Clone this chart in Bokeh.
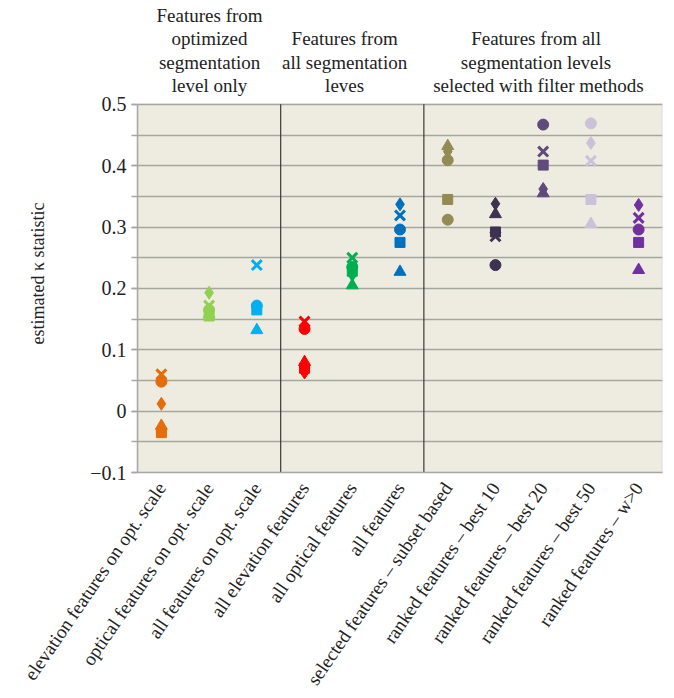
import math
from bokeh.plotting import figure
from bokeh.models import (ColumnDataSource, FactorRange, FixedTicker, BoxAnnotation, Range1d)
from bokeh.core.properties import value
from bokeh.embed import file_html
from bokeh.resources import INLINE

categories = [
    "elevation features on opt. scale",
    "optical features on opt. scale",
    "all features on opt. scale",
    "all elevation features",
    "all optical features",
    "all features",
    "selected features \u2013 subset based",
    "ranked features \u2013 best 10",
    "ranked features \u2013 best 20",
    "ranked features \u2013 best 50",
    "ranked features \u2013 w>0",
]
colors = ["#E46C0A", "#92D050", "#00B0F0", "#FF0000", "#00B050", "#0070C0",
          "#948A54", "#3F3151", "#604A7B", "#CCC1DA", "#7030A0"]

NaN = float("nan")
diamond_vals = [0.012, 0.193, 0.170, 0.063, 0.222, 0.337, 0.423, 0.338, 0.362, 0.437, 0.336]
square_vals = [-0.035, 0.155, 0.165, 0.070, 0.228, 0.275, 0.345, 0.292, 0.401, 0.345, 0.275]
triangle_vals = [-0.024, 0.158, 0.132, 0.080, 0.205, 0.227, 0.432, 0.321, 0.355, 0.305, 0.230]
x_vals = [0.060, 0.172, 0.238, 0.146, 0.250, 0.319, NaN, 0.285, 0.423, 0.408, 0.315]
circle_vals = [0.048, 0.165, 0.172, 0.134, 0.235, 0.296, 0.409, 0.238, 0.467, 0.469, 0.296]
circle_b_vals = [NaN, NaN, NaN, NaN, NaN, NaN, 0.312, NaN, NaN, NaN, NaN]

y_min, y_max = -0.1, 0.5
y_ticks = [-0.1, 0.0, 0.1, 0.2, 0.3, 0.4, 0.5]
y_tick_labels = ["\u22120.1", "0", "0.1", "0.2", "0.3", "0.4", "0.5"]
y_minor = [-0.1, -0.05, 0.0, 0.05, 0.1, 0.15, 0.2, 0.25, 0.3, 0.35, 0.4, 0.45, 0.5]

group_titles = [
    "Features from\noptimized\nsegmentation\nlevel only",
    "Features from\nall segmentation\nleves",
    "Features from  all\nsegmentation  levels\nselected with filter methods",
]
group_bounds = [3, 6]

SERIF = "Liberation Serif"
TXT = "#222222"
GRAY = "#A6A6A6"

p = figure(x_range=FactorRange(factors=categories, range_padding=0),
           y_range=Range1d(y_min, 0.666), width=668, height=697,
           output_backend="svg", toolbar_location=None,
           min_border_left=137, min_border_right=6, min_border_top=2,
           min_border_bottom=224)
p.background_fill_color = "white"
p.border_fill_color = "white"
p.outline_line_color = None

# plot area background + border (only from -0.1 to 0.5)
p.add_layout(BoxAnnotation(bottom=y_min, top=y_max, fill_color="#EEECE1", fill_alpha=1,
                           line_color=GRAY, line_width=1.5, level="image"))

# grids
p.xgrid.grid_line_color = None
p.ygrid.ticker = FixedTicker(ticks=y_minor)
p.ygrid.grid_line_color = "#A6A6A0"
p.ygrid.grid_line_width = 1.5

# y axis
p.yaxis.bounds = (y_min, y_max)
p.yaxis.ticker = FixedTicker(ticks=y_ticks, minor_ticks=y_minor)
p.yaxis.major_label_overrides = {t: l for t, l in zip(y_ticks, y_tick_labels)}
p.yaxis.major_label_text_font = SERIF
p.yaxis.major_label_text_font_size = "20px"
p.yaxis.major_label_text_color = TXT
p.yaxis.axis_line_color = GRAY
p.yaxis.axis_line_width = 1.5
p.yaxis.major_tick_line_color = GRAY
p.yaxis.minor_tick_line_color = GRAY
p.yaxis.major_tick_line_width = 1.5
p.yaxis.minor_tick_line_width = 1.5
p.yaxis.major_tick_out = 6
p.yaxis.major_tick_in = 0
p.yaxis.minor_tick_out = 6
p.yaxis.minor_tick_in = 0
p.yaxis.major_label_standoff = 5
p.yaxis.axis_label = "estimated \u03ba statistic" + "\u00a0" * 16
p.yaxis.axis_label_text_font = SERIF
p.yaxis.axis_label_text_font_size = "18px"
p.yaxis.axis_label_text_font_style = "normal"
p.yaxis.axis_label_text_color = TXT
p.yaxis.axis_label_standoff = 39

# x axis
p.xaxis.major_label_orientation = 0.97
p.xaxis.major_label_text_font = SERIF
p.xaxis.major_label_text_font_size = "19px"
p.xaxis.major_label_text_color = TXT
p.xaxis.axis_line_color = GRAY
p.xaxis.axis_line_width = 1.5
p.xaxis.major_tick_line_color = None
p.xaxis.minor_tick_line_color = None
p.xaxis.major_label_standoff = 6

# group separators
p.segment(x0=group_bounds, x1=group_bounds, y0=[y_min] * len(group_bounds),
          y1=[y_max] * len(group_bounds), line_color="#3A3A3A", line_width=1.2)

def src(vals):
    return ColumnDataSource(dict(x=categories, y=vals, c=colors))

p.scatter("x", "y", source=src(x_vals), marker="x", size=14, line_color="c", line_width=3)
p.scatter("x", "y", source=src(triangle_vals), marker="triangle", size=12, fill_color="c", line_color="c")
p.scatter("x", "y", source=src(square_vals), marker="square", size=10, fill_color="c", line_color="c")
p.scatter("x", "y", source=src(circle_vals), marker="circle", size=11, fill_color="c", line_color="c")
p.scatter("x", "y", source=src(circle_b_vals), marker="circle", size=11, fill_color="c", line_color="c")
p.scatter("x", "y", source=src(diamond_vals), marker="diamond", size=13, fill_color="c", line_color="c")

# group headers
title_x = [1.51, 4.34, 8.4]
p.text(x=title_x, y=[0.513] * 3, text=group_titles, text_align="center",
       text_baseline="bottom", text_font=value(SERIF), text_font_size="19px",
       text_line_height=1.12, text_color=TXT)

open("out.html", "w").write(file_html(p, INLINE))
